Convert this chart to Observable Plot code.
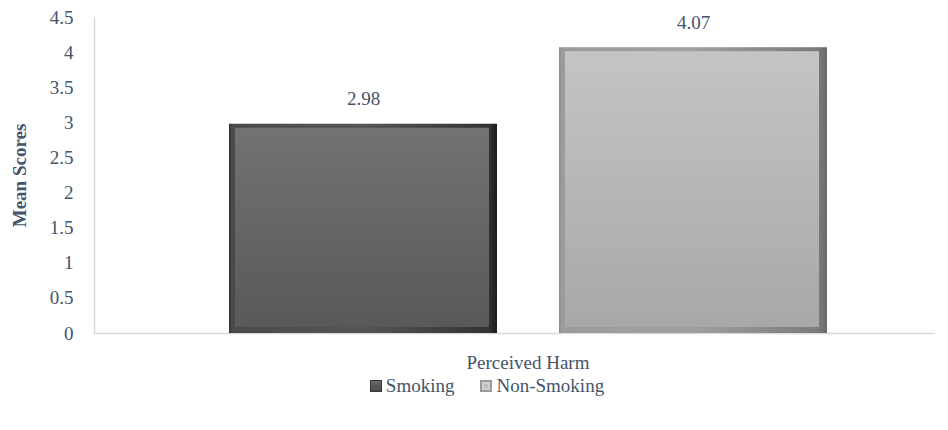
<!DOCTYPE html>
<html><head><meta charset="utf-8">
<script src="https://cdn.jsdelivr.net/npm/d3@7"></script>
<script src="https://cdn.jsdelivr.net/npm/@observablehq/plot@0.6"></script>
<style>
body{margin:0;background:#fff;font-family:'Liberation Serif','Times New Roman',Tinos,Times,'Nimbus Roman','Noto Serif','DejaVu Serif',serif;color:#44546a}
#chart svg, #chart svg text{font-family:'Liberation Serif','Times New Roman',Tinos,Times,'Nimbus Roman','Noto Serif','DejaVu Serif',serif !important}
#chart svg{display:block}
#legend{display:flex;justify-content:center;align-items:center;gap:26px;font-size:19px;line-height:22px;height:22px;margin-top:0px;padding-left:26px;box-sizing:border-box;width:948px}
.item{display:flex;align-items:center;gap:4px}
.sw{width:12px;height:12px;box-sizing:border-box}
</style></head><body><div id="chart"></div><div id="legend"></div><script>
const categories = ["Perceived Harm"];
const series = ["Smoking", "Non-Smoking"];
const values = [2.98, 4.07];
const yTicks = [0, 0.5, 1, 1.5, 2, 2.5, 3, 3.5, 4, 4.5];
const yTitle = "Mean Scores";

const data = series.map((s, i) => ({series: s, value: values[i], category: categories[0]}));
const textColor = "#44546a";

const barMarks = [];
series.forEach((s, i) => {
  const d = data.filter(r => r.series === s);
  barMarks.push(Plot.barY(d, {x: "series", y: "value", fill: `url(#outer${i})`}));
  barMarks.push(Plot.barY(d, {x: "series", y: "value", fill: `url(#inner${i})`, insetLeft: 6, insetRight: 8, insetTop: 4, insetBottom: 6}));
});

const chart = Plot.plot({
  width: 948,
  height: 375,
  marginLeft: 94,
  marginRight: 13,
  marginTop: 17,
  marginBottom: 42,
  style: {color: textColor, background: "#fff", fontSize: "19px"},
  x: {domain: series, insetLeft: 134, insetRight: 107, paddingInner: 0.187, paddingOuter: 0, axis: null},
  y: {domain: [0, 4.5], axis: null},
  marks: [
    Plot.ruleY([0], {stroke: "#d9d9d9", strokeWidth: 1.5}),
    Plot.frame({anchor: "left", stroke: "#d9d9d9", strokeWidth: 1.5}),
    ...barMarks,
    Plot.axisY({ticks: yTicks, tickSize: 0, tickPadding: 21, tickFormat: d => String(d), fontSize: 19, label: null, fill: textColor}),
    Plot.axisY({ticks: [], label: yTitle, labelAnchor: "center", labelOffset: 82, labelArrow: "none", fontSize: 19, fontWeight: "bold", fill: textColor}),
    Plot.text(data, {x: "series", y: "value", text: d => d.value.toFixed(2), dy: -25, fontSize: 19, fill: textColor}),
    Plot.text(categories, {frameAnchor: "bottom", lineAnchor: "middle", dy: 29, dx: 13, fontSize: 19, fill: textColor})
  ]
});
document.getElementById("chart").appendChild(chart);

const svg = d3.select(chart);
const defs = svg.insert("defs", ":first-child");
function grad(id, x2, y2, stops) {
  const g = defs.append("linearGradient").attr("id", id).attr("x1", 0).attr("y1", 0).attr("x2", x2).attr("y2", y2);
  stops.forEach(([o, c]) => g.append("stop").attr("offset", o).attr("stop-color", c));
}
grad("outer0", 1, 0, [[0, "#2e2e2e"], [0.01, "#4a4a4a"], [0.5, "#555"], [0.97, "#333"], [1, "#1a1a1a"]]);
grad("inner0", 0, 1, [[0, "#727272"], [1, "#595959"]]);
grad("outer1", 1, 0, [[0, "#8a8a8a"], [0.01, "#9c9c9c"], [0.5, "#a0a0a0"], [0.97, "#7a7a7a"], [1, "#6a6a6a"]]);
grad("inner1", 0, 1, [[0, "#c4c4c4"], [1, "#a8a8a8"]]);

const legend = d3.select("#legend");
const swStyles = [
  "background:linear-gradient(#6a6a6a,#4a4a4a);border:1px solid #3a3a3a",
  "background:#c0c0c0;border:2px solid #9a9a9a;box-shadow:inset 0 0 0 2px #d0d0d0"
];
series.forEach((s, i) => {
  const it = legend.append("div").attr("class", "item");
  it.append("div").attr("class", "sw").attr("style", swStyles[i]);
  it.append("span").text(s);
});
</script></body></html>
